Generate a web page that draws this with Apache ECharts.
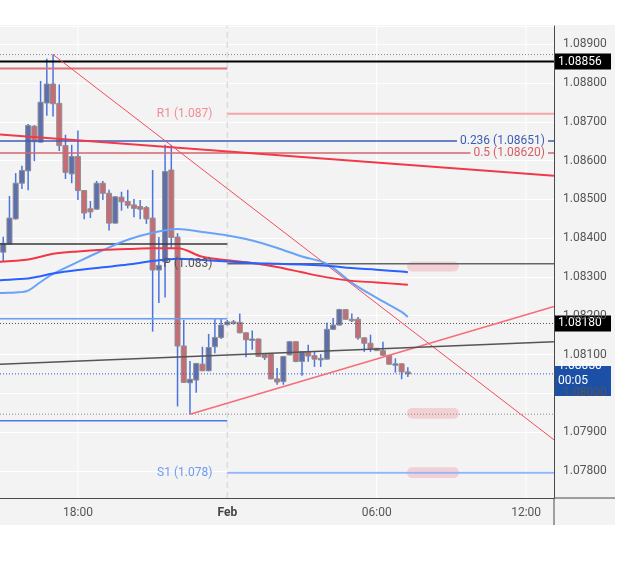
<!DOCTYPE html>
<html><head><meta charset="utf-8">
<script src="https://cdn.jsdelivr.net/npm/echarts@6/dist/echarts.min.js"></script>
<style>html,body{margin:0;padding:0;background:#fff}#c{width:625px;height:561px}</style>
</head><body><div id="c"></div>
<script>
// ---- candle data (15-min EUR/USD) ----
const candleTimes = ['15:00','15:15','15:30','15:45','16:00','16:15','16:30','16:45','17:00','17:15','17:30','17:45',
 '18:00','18:15','18:30','18:45','19:00','19:15','19:30','19:45','20:00','20:15','20:30','20:45',
 '21:00','21:15','21:30','21:45','22:00','22:15','22:30','22:45','23:00','23:15','23:30','23:45',
 '00:00','00:15','00:30','00:45','01:00','01:15','01:30','01:45','02:00','02:15','02:30','02:45',
 '03:00','03:15','03:30','03:45','04:00','04:15','04:30','04:45','05:00','05:15','05:30','05:45',
 '06:00','06:15','06:30','06:45','07:00','07:15'];
const opens = [1.08364,1.08385,1.08450,1.08542,1.08574,1.08689,1.08648,1.08749,1.08798,1.08748,1.08639,1.08566,
 1.08611,1.08523,1.08476,1.08475,1.08542,1.08516,1.08439,1.08506,1.08495,1.08486,1.08482,1.08479,
 1.08452,1.08318,1.08339,1.08576,1.08403,1.08122,1.08027,1.08034,1.08075,1.08058,1.08120,1.08144,
 1.08177,1.08184,1.08183,1.08156,1.08138,1.08140,1.08100,1.08102,1.08037,1.08030,1.08099,1.08133,
 1.08082,1.08107,1.08097,1.08088,1.08088,1.08165,1.08176,1.08216,1.08191,1.08191,1.08143,1.08129,
 1.08116,1.08110,1.08098,1.08075,1.08076,1.08055];
const highs = [1.08404,1.08509,1.08568,1.08587,1.08695,1.08692,1.08806,1.08863,1.08874,1.08797,1.08667,1.08641,
 1.08678,1.08524,1.08496,1.08548,1.08548,1.08525,1.08508,1.08520,1.08525,1.08501,1.08499,1.08483,
 1.08576,1.08403,1.08641,1.08641,1.08413,1.08189,1.08083,1.08078,1.08120,1.08153,1.08194,1.08192,
 1.08189,1.08189,1.08206,1.08157,1.08162,1.08141,1.08101,1.08103,1.08065,1.08096,1.08135,1.08134,
 1.08108,1.08125,1.08107,1.08101,1.08182,1.08194,1.08218,1.08217,1.08206,1.08197,1.08144,1.08151,
 1.08117,1.08133,1.08099,1.08090,1.08077,1.08067];
const lows = [1.08341,1.08384,1.08448,1.08527,1.08524,1.08599,1.08647,1.08716,1.08714,1.08625,1.08553,1.08542,
 1.08499,1.08449,1.08452,1.08474,1.08499,1.08420,1.08438,1.08471,1.08477,1.08454,1.08449,1.08437,
 1.08159,1.08233,1.08247,1.08372,1.07966,1.08028,1.07946,1.08001,1.08057,1.08057,1.08103,1.08140,
 1.08175,1.08177,1.08155,1.08093,1.08112,1.08094,1.08086,1.08036,1.08022,1.08022,1.08098,1.08080,
 1.08045,1.08081,1.08068,1.08068,1.08087,1.08164,1.08175,1.08190,1.08184,1.08138,1.08107,1.08107,
 1.08109,1.08097,1.08074,1.08053,1.08036,1.08042];
const closes = [1.08387,1.08452,1.08542,1.08575,1.08691,1.08649,1.08751,1.08798,1.08747,1.08639,1.08570,1.08611,
 1.08523,1.08465,1.08468,1.08542,1.08516,1.08439,1.08507,1.08494,1.08485,1.08477,1.08475,1.08450,
 1.08318,1.08330,1.08572,1.08402,1.08122,1.08028,1.08036,1.08077,1.08058,1.08118,1.08144,1.08176,
 1.08184,1.08183,1.08156,1.08138,1.08140,1.08095,1.08092,1.08037,1.08029,1.08095,1.08133,1.08082,
 1.08107,1.08096,1.08088,1.08090,1.08165,1.08176,1.08216,1.08191,1.08190,1.08143,1.08129,1.08116,
 1.08110,1.08098,1.08075,1.08076,1.08055,1.08050];

// ---- moving averages (read at sample times) ----
const maTimes = ['14:45','15:00','15:30','16:00','16:30','17:00','18:00','19:00','20:00','21:00','22:00','23:00','00:00',
 '01:00','02:00','03:00','04:00','05:00','06:00','07:00','07:15'];
const maFast = [1.08258,1.08259,1.08260,1.08265,1.08287,1.08308,1.08339,1.08369,1.08396,1.08414,1.08424,1.08416,1.08407,
 1.08394,1.08375,1.08353,1.08334,1.08285,1.08246,1.08210,1.08197];
const maRed = [1.08339,1.08340,1.08342,1.08345,1.08352,1.08360,1.08366,1.08370,1.08372,1.08374,1.08374,1.08352,1.08343,
 1.08336,1.08326,1.08312,1.08299,1.08290,1.08286,1.08281,1.08280];
const maBlue = [1.08291,1.08292,1.08294,1.08296,1.08302,1.08309,1.08318,1.08325,1.08332,1.08341,1.08347,1.08344,1.08340,
 1.08336,1.08334,1.08332,1.08329,1.08323,1.08319,1.08314,1.08312];

// ---- axis ticks ----
const yTicks = ['1.07800','1.07900','1.08000','1.08100','1.08200','1.08300','1.08400','1.08500','1.08600','1.08700','1.08800','1.08900'];
const xTickHours = [18, 24, 30, 36];
const xTickLabels = ['18:00', 'Feb', '06:00', '12:00'];

// ---- levels ----
const level1 = 1.08856;      // black horizontal
const highDot = 1.08874;     // dotted session high
const redShort = 1.08838;
const r1 = 1.08721, r1Label = 'R1 (1.087)';
const fib236 = 1.08651, fib236Label = '0.236 (1.08651)';
const fib50 = 1.08620, fib50Label = '0.5 (1.08620)';
const blackShort = 1.08385;
const pivot = 1.08334, pivotLabel = 'P (1.083)';
const blueShort = 1.08192;
const dot18180 = 1.08180;
const lastPrice = 1.08050, countdown = '00:05';
const lowDot = 1.07946;
const blueShort2 = 1.07929;
const s1 = 1.07795, s1Label = 'S1 (1.078)';
// trendlines [startTime, startPrice, endTime, endPrice]
const trendRedThick = ['14:52', 1.08668, '13:07', 1.08561];
const trendDown = ['17:00', 1.08874, '13:07', 1.07880];
const trendUp = ['22:30', 1.07946, '13:07', 1.08224];
const trendGray = ['14:52', 1.08075, '13:07', 1.08133];
// alert boxes [t1, t2, low, high]
const alertBoxes = [['07:13','09:18',1.08314,1.08340],['07:13','09:18',1.07934,1.07962],['07:13','09:18',1.07781,1.07809]];

function hourOf(s){const a=s.split(':').map(Number);return (a[0]<14?a[0]+24:a[0])+a[1]/60;}

const X0 = 14.87, X1 = 37.12, Y0 = 1.077297, Y1 = 1.089477;
const candleData = candleTimes.map((t,i)=>[hourOf(t),opens[i],closes[i],lows[i],highs[i]]);
const zip = (ts,vs)=>ts.map((t,i)=>[hourOf(t),vs[i]]);

function seg(t1,p1,t2,p2,color,width,type,z){
  return {type:'line',data:[[t1,p1],[t2,p2]],symbol:'none',silent:true,clip:true,z:(z===undefined?3:z),
    lineStyle:{color:color,width:width,type:type||'solid'},animation:false};
}
function tl(a,color,width){return seg(hourOf(a[0]),a[1],hourOf(a[2]),a[3],color,width);}

const series = [
  // vertical grid lines
  seg(18,Y0,18,Y1,'#ffffff',1,'solid',0),
  seg(30,Y0,30,Y1,'#ffffff',1,'solid',0),
  seg(36,Y0,36,Y1,'#ffffff',1,'solid',0),
  seg(24,Y0,24,Y1,'#dcdcdc',1.5,[6,4],0),
  {type:'custom', z:2, clip:true, animation:false,
   data: candleData, encode:{x:0,y:[1,2,3,4]},
   renderItem:function(params,api){
     const t=api.value(0),o=api.value(1),c=api.value(2),l=api.value(3),h=api.value(4);
     const pO=api.coord([t,o]),pC=api.coord([t,c]),pL=api.coord([t,l]),pH=api.coord([t,h]);
     const w=5; const top=Math.min(pO[1],pC[1]); let hh=Math.abs(pO[1]-pC[1]); if(hh<1.5)hh=1.5;
     const bull=c>=o;
     return {type:'group',children:[
       {type:'line',shape:{x1:pH[0],y1:pH[1],x2:pL[0],y2:pL[1]},style:{stroke:'#2c5ddb',lineWidth:1.5,opacity:0.85}},
       {type:'rect',shape:{x:pO[0]-w/2,y:top,width:w,height:hh},style:{fill:bull?'#5d6fae':'#c76c76',stroke:'#8e8e8e',lineWidth:1}}
     ]};
   }},
  {type:'custom', z:1, clip:true, animation:false, data: alertBoxes.map(b=>[hourOf(b[0]),hourOf(b[1]),b[2],b[3]]),
   renderItem:function(params,api){
     const a=api.coord([api.value(0),api.value(3)]), b=api.coord([api.value(1),api.value(2)]);
     return {type:'rect',shape:{x:a[0],y:a[1],width:b[0]-a[0],height:b[1]-a[1],r:5},style:{fill:'rgba(240,120,132,0.28)'}};
   }},
  // moving averages
  {type:'line',data:zip(maTimes,maFast),smooth:0.35,symbol:'none',clip:true,z:4,animation:false,lineStyle:{color:'#6aa2f7',width:2}},
  {type:'line',data:zip(maTimes,maRed),smooth:0.35,symbol:'none',clip:true,z:4,animation:false,lineStyle:{color:'#f23645',width:2}},
  {type:'line',data:zip(maTimes,maBlue),smooth:0.35,symbol:'none',clip:true,z:4,animation:false,lineStyle:{color:'#2962ff',width:2}},
  // horizontal levels
  seg(X0,highDot,X1,highDot,'#888',1,[1,2]),
  seg(X0,level1,X1,level1,'#000',2),
  seg(X0,redShort,24,redShort,'#d9737c',2),
  seg(24,r1,X1,r1,'#f7a4a9',2),
  seg(X0,fib236,X1,fib236,'#3d5cb8',1.5),
  seg(X0,fib50,X1,fib50,'#d4646e',1.5),
  seg(X0,blackShort,24,blackShort,'#3a3a3a',1.5),
  seg(24,pivot,X1,pivot,'#666',1.5),
  seg(X0,blueShort,24,blueShort,'#6a9cf0',1.5),
  seg(X0,dot18180,X1,dot18180,'#555',1,[1,2]),
  seg(X0,lastPrice,X1,lastPrice,'#2a5bc8',1,[1,2]),
  seg(X0,lowDot,X1,lowDot,'#888',1,[1,2]),
  seg(X0,blueShort2,24,blueShort2,'#4a7be6',1.5),
  seg(24,s1,X1,s1,'#92b6f8',2),
  // trendlines
  tl(trendRedThick,'#f03a4a',2),
  tl(trendDown,'#f24c5c',1),
  tl(trendUp,'#f46e7a',1.5),
  tl(trendGray,'#555',1.5)
];

const chart = echarts.init(document.getElementById('c'),null,{renderer:'canvas'});
const option = {
  animation:false,
  backgroundColor:'#ffffff',
  textStyle:{fontFamily:'Roboto'},
  grid:{left:0,right:71,top:26,bottom:63,show:false},
  xAxis:{type:'value',min:X0,max:X1,
    axisLine:{show:true,lineStyle:{color:'#4a4a4a',width:1}},axisTick:{show:false},
    splitLine:{show:false},
    axisLabel:{color:'#555',fontSize:12,fontFamily:'Roboto',margin:9,customValues:xTickHours,
      formatter:function(v){const i=xTickHours.indexOf(Math.round(v*100)/100);if(i<0)return '';const s=xTickLabels[i];return s==='Feb'?'{b|Feb}':s;},
      rich:{b:{fontWeight:'bold',color:'#444',fontSize:12,fontFamily:'Roboto'}}}},
  yAxis:{type:'value',position:'right',min:Y0,max:Y1,splitNumber:12,scale:true,
    axisLine:{show:true,lineStyle:{color:'#4a4a4a',width:1}},axisTick:{show:false},
    splitLine:{show:true,lineStyle:{color:'#ffffff',width:1}},
    axisLabel:{color:'#555',fontSize:12,fontFamily:'Roboto',margin:9,showMinLabel:false,showMaxLabel:false,
      formatter:function(v){const s=v.toFixed(5);return yTicks.indexOf(s)>=0?s:'';}}},
  series:series
};
chart.setOption(option);

function px(t,p){return chart.convertToPixel({gridIndex:0},[t,p]);}
const yAxisX = px(X1,Y0)[0];
const bottomY = px(X0,Y0)[1];
const topY = px(X0,Y1)[1];
const lineStartX = px(24,Y0)[0];
function axisBox(price,txt,fill,h){
  const y=px(24,price)[1];
  return {type:'group',z:20,children:[
    {type:'rect',shape:{x:yAxisX,y:y-8,width:57,height:h||16},style:{fill:fill}},
    {type:'text',x:yAxisX+4,y:y,style:{text:txt,fill:'#fff',font:'12px Roboto',textVerticalAlign:'middle',lineHeight:15}}
  ]};
}
function lvlText(price,txt,color,xr,bg,z){
  const y=px(24,price)[1];
  const st={text:txt,fill:color,font:'12px Roboto',textAlign:'right',textVerticalAlign:'middle'};
  if(bg){st.backgroundColor=bg;st.padding=[1,3];}
  return {type:'text',z:(z===undefined?15:z),x:xr,y:y,style:st};
}
chart.setOption({graphic:[
  {type:'rect',z:-10,silent:true,shape:{x:0,y:topY-1,width:615,height:525-topY+1},style:{fill:'#f3f3f3'}},
  {type:'line',z:5,shape:{x1:yAxisX,y1:bottomY,x2:615,y2:bottomY},style:{stroke:'#4a4a4a',lineWidth:1}},
  {type:'line',z:5,shape:{x1:yAxisX,y1:bottomY,x2:yAxisX,y2:525},style:{stroke:'#4a4a4a',lineWidth:1}},
  axisBox(level1,'1.08856','#000'),
  axisBox(dot18180,'1.08180','#000'),
  axisBox(lastPrice,'1.08050\n'+countdown,'#1c4fa6',30),
  lvlText(r1,r1Label,'#f28c94',lineStartX-15),
  lvlText(pivot,pivotLabel,'#555',lineStartX-15),
  lvlText(s1,s1Label,'#6a9cf4',lineStartX-15),
  lvlText(fib236,fib236Label,'#3d5cb5',yAxisX-6,'#f3f3f3'),
  lvlText(fib50,fib50Label,'#d45d68',yAxisX-6,'#f3f3f3')
]});
</script></body></html>
